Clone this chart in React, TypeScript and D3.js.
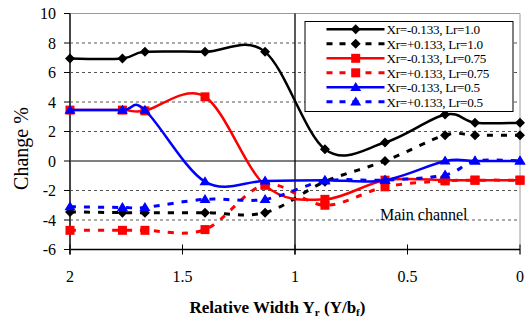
import React from "react";
import * as d3 from "d3";

// Relative width positions (x) shared by every series
const X_VALUES = [2, 1.767, 1.667, 1.4, 1.133, 0.867, 0.6, 0.333, 0.2, 0];

// Change % per series
const BLACK_SOLID = [6.95, 6.95, 7.4, 7.4, 7.4, 0.8, 1.25, 3.15, 2.6, 2.6];
const BLACK_DASHED = [-3.45, -3.5, -3.5, -3.5, -3.5, -1.4, 0, 1.75, 1.75, 1.75];
const RED_SOLID = [3.45, 3.45, 3.4, 4.35, -1.65, -2.6, -1.3, -1.3, -1.3, -1.3];
const RED_DASHED = [-4.7, -4.7, -4.7, -4.65, -1.6, -3.0, -1.75, -1.35, -1.3, -1.3];
const BLUE_SOLID = [3.45, 3.45, 3.45, -1.4, -1.35, -1.3, -1.3, 0, 0, 0];
const BLUE_DASHED = [-3.1, -3.15, -3.15, -2.6, -2.6, -1.35, -1.3, -0.95, 0, 0];

const SERIES_LABELS = [
  "Xr=-0.133, Lr=1.0",
  "Xr=+0.133, Lr=1.0",
  "Xr=-0.133, Lr=0.75",
  "Xr=+0.133, Lr=0.75",
  "Xr=-0.133, Lr=0.5",
  "Xr=+0.133, Lr=0.5",
];

const Y_TICKS = [-6, -4, -2, 0, 2, 4, 6, 8, 10];
const X_TICKS = [2, 1.5, 1, 0.5, 0];
const Y_GRID = [-4, -2, 2, 4, 6, 8];

type Marker = "diamond" | "square" | "triangle";

interface Series {
  label: string;
  values: number[];
  color: string;
  dashed: boolean;
  marker: Marker;
}

const SERIES: Series[] = [
  { label: SERIES_LABELS[0], values: BLACK_SOLID, color: "#000000", dashed: false, marker: "diamond" },
  { label: SERIES_LABELS[1], values: BLACK_DASHED, color: "#000000", dashed: true, marker: "diamond" },
  { label: SERIES_LABELS[2], values: RED_SOLID, color: "#ff0000", dashed: false, marker: "square" },
  { label: SERIES_LABELS[3], values: RED_DASHED, color: "#ff0000", dashed: true, marker: "square" },
  { label: SERIES_LABELS[4], values: BLUE_SOLID, color: "#0000ff", dashed: false, marker: "triangle" },
  { label: SERIES_LABELS[5], values: BLUE_DASHED, color: "#0000ff", dashed: true, marker: "triangle" },
];

const W = 526;
const H = 328;
const FONT = "'Liberation Serif', 'Times New Roman', serif";

const PLOT_LEFT = 70;
const PLOT_RIGHT = 520;
const PLOT_TOP = 13.5;
const PLOT_BOTTOM = 249.5;

function markerShape(kind: Marker, cx: number, cy: number, color: string, key: string) {
  if (kind === "diamond") {
    const r = 5;
    return (
      <path key={key} d={`M${cx},${cy - r}L${cx + r},${cy}L${cx},${cy + r}L${cx - r},${cy}Z`} fill={color} />
    );
  }
  if (kind === "square") {
    const s = 9;
    return <rect key={key} x={cx - s / 2} y={cy - s / 2} width={s} height={s} fill={color} />;
  }
  const hw = 5.5;
  const h = 9;
  return (
    <path
      key={key}
      d={`M${cx},${cy - h * 0.6}L${cx + hw},${cy + h * 0.4}L${cx - hw},${cy + h * 0.4}Z`}
      fill={color}
    />
  );
}

export default function App() {
  const x = d3.scaleLinear().domain([2, 0]).range([PLOT_LEFT, PLOT_RIGHT]);
  const y = d3.scaleLinear().domain([-6, 10]).range([PLOT_BOTTOM, PLOT_TOP]);

  const line = d3
    .line<number>()
    .x((_, i) => x(X_VALUES[i]))
    .y((d) => y(d))
    .curve(d3.curveCardinal.tension(0));

  const legendX = 305;
  const legendY = 21.5;
  const legendW = 208;
  const legendH = 90;
  const rowStep = 14.5;

  return (
    <svg
      width={W}
      height={H}
      style={{ position: "absolute", left: 0, top: 0, background: "#ffffff" }}
      fontFamily={FONT}
    >
      <rect x={0} y={0} width={W} height={H} fill="#ffffff" />

      {/* frame */}
      <line x1={PLOT_LEFT} x2={PLOT_RIGHT} y1={PLOT_TOP} y2={PLOT_TOP} stroke="#9a9a9a" strokeWidth={1} />
      <line x1={PLOT_RIGHT} x2={PLOT_RIGHT} y1={PLOT_TOP} y2={PLOT_BOTTOM + 5} stroke="#9a9a9a" strokeWidth={1} />

      {/* dashed grid */}
      {Y_GRID.map((v) => (
        <line
          key={`g${v}`}
          x1={PLOT_LEFT}
          x2={PLOT_RIGHT}
          y1={y(v)}
          y2={y(v)}
          stroke="#555555"
          strokeWidth={1}
          strokeDasharray="3,3"
        />
      ))}

      {/* zero line and main-channel boundary */}
      <line x1={PLOT_LEFT} x2={PLOT_RIGHT} y1={y(0)} y2={y(0)} stroke="#000000" strokeWidth={1} />
      <line x1={x(1)} x2={x(1)} y1={PLOT_TOP} y2={PLOT_BOTTOM + 5} stroke="#000000" strokeWidth={1.3} />

      {/* axes */}
      <line x1={PLOT_LEFT} x2={PLOT_RIGHT} y1={PLOT_BOTTOM} y2={PLOT_BOTTOM} stroke="#000000" strokeWidth={1.5} />
      <line x1={PLOT_LEFT} x2={PLOT_LEFT} y1={PLOT_TOP} y2={PLOT_BOTTOM + 5} stroke="#444444" strokeWidth={2} />

      {Y_TICKS.map((v) => (
        <g key={`yt${v}`}>
          <line x1={PLOT_LEFT - 6} x2={PLOT_LEFT} y1={y(v)} y2={y(v)} stroke="#000000" strokeWidth={1} />
          <text x={56} y={y(v) + 5.5} textAnchor="end" fontSize={16} fill="#000000">
            {v}
          </text>
        </g>
      ))}

      {X_TICKS.map((v) => (
        <g key={`xt${v}`}>
          <line x1={x(v)} x2={x(v)} y1={PLOT_BOTTOM - 5} y2={PLOT_BOTTOM + 5} stroke="#000000" strokeWidth={1} />
          <text x={x(v)} y={282} textAnchor="middle" fontSize={16} fill="#000000">
            {v}
          </text>
        </g>
      ))}

      {/* series */}
      {SERIES.map((s, si) => (
        <g key={`s${si}`}>
          <path
            d={line(s.values) || ""}
            fill="none"
            stroke={s.color}
            strokeWidth={s.dashed ? 3 : 2.5}
            strokeDasharray={s.dashed ? "6,8" : undefined}
          />
          {s.values.map((v, i) => markerShape(s.marker, x(X_VALUES[i]), y(v), s.color, `m${si}-${i}`))}
        </g>
      ))}

      <text x={380} y={219.5} fontSize={16} fill="#000000">
        Main channel
      </text>

      {/* legend */}
      <rect x={legendX} y={legendY} width={legendW} height={legendH} fill="#ffffff" stroke="#000000" strokeWidth={1} />
      {SERIES.map((s, i) => {
        const cy = 29.3 + i * rowStep;
        return (
          <g key={`l${i}`}>
            <line
              x1={326.5}
              x2={384.5}
              y1={cy}
              y2={cy}
              stroke={s.color}
              strokeWidth={s.dashed ? 3 : 2.5}
              strokeDasharray={s.dashed ? "6,7" : undefined}
            />
            {markerShape(s.marker, 355.7, cy, s.color, `lm${i}`)}
            <text x={386.5} y={cy + 4.8} fontSize={13.2} letterSpacing={-0.3} fill="#000000">
              {s.label}
            </text>
          </g>
        );
      })}

      {/* axis titles */}
      <text
        transform={`translate(28,148.5) rotate(-90)`}
        textAnchor="middle"
        fontSize={20}
        fill="#000000"
      >
        Change %
      </text>
      <text x={277.5} y={313} textAnchor="middle" fontSize={17} fontWeight="bold" fill="#000000">
        Relative Width Y
        <tspan fontSize={11} dy={3}>r</tspan>
        <tspan dy={-3}> (Y/b</tspan>
        <tspan fontSize={11} dy={3}>f</tspan>
        <tspan dy={-3}>)</tspan>
      </text>
    </svg>
  );
}
